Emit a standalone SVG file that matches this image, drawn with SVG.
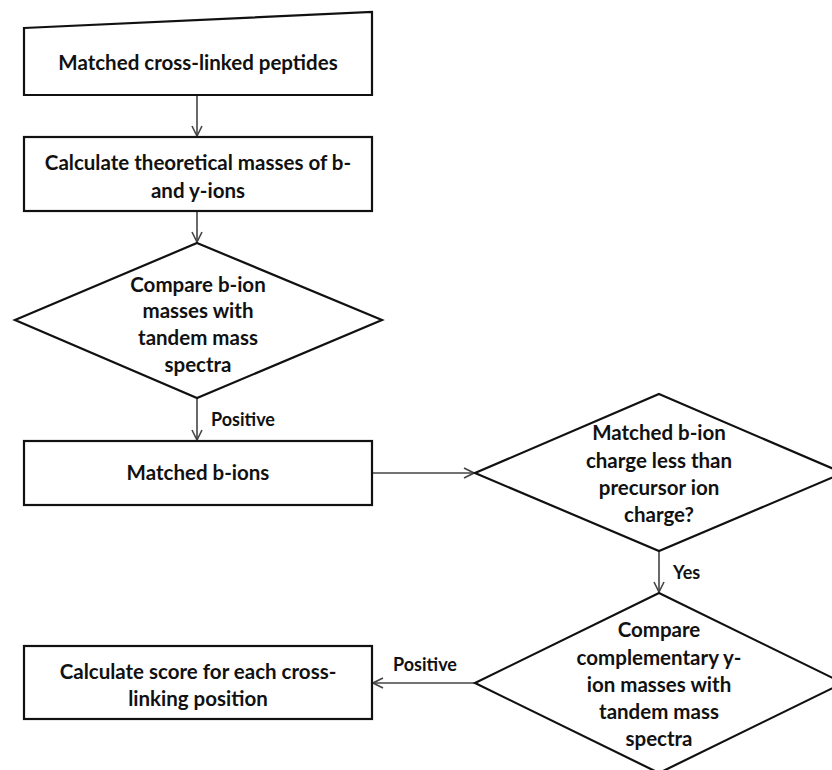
<svg xmlns="http://www.w3.org/2000/svg" width="832" height="770" viewBox="0 0 832 770">
<style>
.shape{fill:#fff;stroke:#111;stroke-width:2.2}
.t{font-family:Lato,"Open Sans","Liberation Sans",sans-serif;font-weight:bold;font-size:20.5px;fill:#111;text-anchor:middle}
.lbl{font-family:Lato,"Open Sans","Liberation Sans",sans-serif;font-weight:bold;font-size:18px;fill:#111}
.c{fill:none;stroke:#444;stroke-width:1.6}
</style>
<defs>
<marker id="ah" viewBox="0 0 12 12" refX="11" refY="6" markerWidth="12" markerHeight="12" markerUnits="userSpaceOnUse" orient="auto">
<path d="M1,1 L11,6 L1,11" fill="none" stroke="#444" stroke-width="1.6"/>
</marker>
</defs>
<rect width="832" height="770" fill="#fff"/>
<g id="connectors">
<line class="c" x1="197" y1="95" x2="197" y2="136" marker-end="url(#ah)"/>
<line class="c" x1="197" y1="211" x2="197" y2="242" marker-end="url(#ah)"/>
<line class="c" x1="197" y1="398" x2="197" y2="440" marker-end="url(#ah)"/>
<text class="lbl" x="211" y="426">Positive</text>
<line class="c" x1="372" y1="473" x2="474" y2="473" marker-end="url(#ah)"/>
<line class="c" x1="659" y1="551" x2="659" y2="592" marker-end="url(#ah)"/>
<text class="lbl" x="673" y="579">Yes</text>
<line class="c" x1="475" y1="683" x2="373" y2="683" marker-end="url(#ah)"/>
<text class="lbl" x="393" y="671">Positive</text>
</g>
<g id="n1">
<path class="shape" d="M24,28 L372,12 L372,95 L24,95 Z"/>
<text class="t" x="198" y="70">Matched cross-linked peptides</text>
</g>
<g id="n2">
<rect class="shape" x="24" y="137" width="348" height="74"/>
<text class="t" x="198" y="170">Calculate theoretical masses of b-</text>
<text class="t" x="198" y="198">and y-ions</text>
</g>
<g id="n3">
<path class="shape" d="M197,243 L382,320 L197,398 L15,320 Z"/>
<text class="t" x="198" y="292">Compare b-ion</text>
<text class="t" x="198" y="318">masses with</text>
<text class="t" x="198" y="345">tandem mass</text>
<text class="t" x="198" y="372">spectra</text>
</g>
<g id="n4">
<rect class="shape" x="24" y="441" width="348" height="64"/>
<text class="t" x="198" y="480">Matched b-ions</text>
</g>
<g id="n5">
<path class="shape" d="M659,394 L843,473 L659,551 L475,473 Z"/>
<text class="t" x="659" y="440">Matched b-ion</text>
<text class="t" x="659" y="468">charge less than</text>
<text class="t" x="659" y="495">precursor ion</text>
<text class="t" x="659" y="522">charge?</text>
</g>
<g id="n6">
<path class="shape" d="M659,593 L843,683 L659,773 L475,683 Z"/>
<text class="t" x="659" y="637">Compare</text>
<text class="t" x="659" y="665">complementary y-</text>
<text class="t" x="659" y="692">ion masses with</text>
<text class="t" x="659" y="719">tandem mass</text>
<text class="t" x="659" y="746">spectra</text>
</g>
<g id="n7">
<rect class="shape" x="24" y="646" width="348" height="73"/>
<text class="t" x="198" y="679">Calculate score for each cross-</text>
<text class="t" x="198" y="706">linking position</text>
</g>
</svg>
